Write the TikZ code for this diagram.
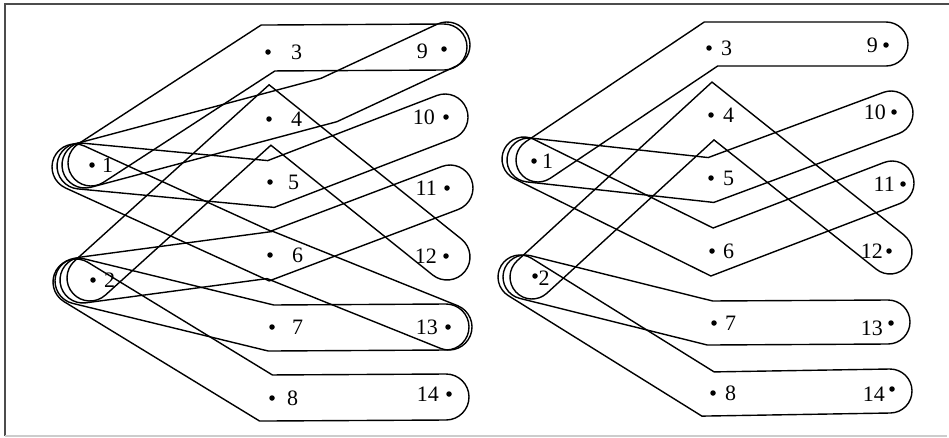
\documentclass[tikz,border=0pt]{standalone}
\usepackage{fontspec}
\setmainfont{Liberation Serif}
\usetikzlibrary{calc,positioning}
\tikzset{
  dot/.style={circle, fill, inner sep=0pt, minimum size=5.5pt},
  lbl/.style={inner sep=0pt, font=\fontsize{22}{22}\selectfont},
  hyper/.style={line width=1.4pt, line join=miter},
  frame/.style={line width=1.4pt},
}
% hyperedge: tube from cap #2 over bend #3 to cap #4, half width #1
\newcommand{\hedge}[4][23pt]{%
  \draw[hyper] let \p1=(#2), \p2=(#3), \p3=(#4),
      \n1={atan2(\y2-\y1,\x2-\x1)}, \n2={atan2(\y3-\y2,\x3-\x2)} in
    ($(\p1)+({\n1+90}:#1)$)
    -- ($(\p2)+({(\n1+\n2)/2+90}:{#1/cos((\n2-\n1)/2)})$)
    -- ($(\p3)+({\n2+90}:#1)$)
    arc[start angle=\n2+90, end angle=\n2-90, radius=#1]
    -- ($(\p2)+({(\n1+\n2)/2-90}:{#1/cos((\n2-\n1)/2)})$)
    -- ($(\p1)+({\n1-90}:#1)$)
    arc[start angle=\n1-90, end angle=\n1-270, radius=#1]
    -- cycle;}

\begin{document}
\begin{tikzpicture}[x=1pt,y=-1pt]
\useasboundingbox (0,0) rectangle (949,437);
\coordinate (c1) at (5,436);
\coordinate (c2) at (5,4);
\coordinate (c3) at (949,4);
\coordinate (c4) at (947,436);
\draw[frame, black!70] (c1) -- (c2) -- (c3);
\draw[frame, black!20] (c1) -- (c4);

% left hypergraph
\node[dot] (a1) at (92,165) {};
\node[dot] (a2) at (93,280) {};
\node[dot] (a3) at (268,52) {};
\node[dot] (a4) at (269,119) {};
\node[dot] (a5) at (270,182) {};
\node[dot] (a6) at (270,255) {};
\node[dot] (a7) at (272,327) {};
\node[dot] (a8) at (272,398) {};
\node[dot] (a9) at (444,49) {};
\node[dot] (a10) at (446,117) {};
\node[dot] (a11) at (447,188) {};
\node[dot] (a12) at (446,256) {};
\node[dot] (a13) at (448,327) {};
\node[dot] (a14) at (449,394) {};
\node[lbl, right=7pt of a1] (la1) {1};
\node[lbl, right=8pt of a2] (la2) {2};
\node[lbl, right=20pt of a3] (la3) {3};
\node[lbl, right=19pt of a4] (la4) {4};
\node[lbl, right=15pt of a5] (la5) {5};
\node[lbl, right=19pt of a6] (la6) {6};
\node[lbl, right=17pt of a7] (la7) {7};
\node[lbl, right=12pt of a8] (la8) {8};
\node[lbl, left=13pt of a9, yshift=-2pt] (la9) {9};
\node[lbl, left=8pt of a10] (la10) {10};
\node[lbl, left=7pt of a11] (la11) {11};
\node[lbl, left=6pt of a12] (la12) {12};
\node[lbl, left=7pt of a13] (la13) {13};
\node[lbl, left=7pt of a14] (la14) {14};

\hedge{$(a1)+(-1,-2)$}{$(a3)+(0,-4)$}{$(a9)+(0,-2)$}
\hedge{$(a1)+(-7,0)$}{$(a4)+(60,-19)$}{$(a9)+(3,-4)$}
\hedge{$(a1)+(-12,1)$}{$(a5)+(1,2)$}{$(a10)+(-1,0)$}
\hedge{$(a1)+(-17,2)$}{$(a6)+(0,1)$}{$(a11)+(3,0)$}
\hedge{$(a2)+(-3,-2)$}{$(a4)+(1,-4)$}{$(a12)+(1,1)$}
\hedge{$(a2)+(-10,0)$}{a6}{$(a13)+(1,0)$}
\hedge{$(a2)+(-15,1)$}{$(a7)+(-1,1)$}{$(a13)+(-2,0)$}
\hedge{$(a2)+(-17,2)$}{$(a8)+(-6,0)$}{$(a14)+(-3,3)$}

% right hypergraph
\node[dot] (b1) at (534,161) {};
\node[dot] (b2) at (535,276) {};
\node[dot] (b3) at (709,48) {};
\node[dot] (b4) at (711,115) {};
\node[dot] (b5) at (711,178) {};
\node[dot] (b6) at (712,251) {};
\node[dot] (b7) at (714,323) {};
\node[dot] (b8) at (713,393) {};
\node[dot] (b9) at (886,45) {};
\node[dot] (b10) at (894,112) {};
\node[dot] (b11) at (903,184) {};
\node[dot] (b12) at (889,251) {};
\node[dot] (b13) at (891,323) {};
\node[dot] (b14) at (892,389) {};
\node[lbl, right=5pt of b1] (lb1) {1};
\node[lbl, right=0.5pt of b2, yshift=-2pt] (lb2) {2};
\node[lbl, right=9pt of b3] (lb3) {3};
\node[lbl, right=9pt of b4] (lb4) {4};
\node[lbl, right=9pt of b5] (lb5) {5};
\node[lbl, right=8pt of b6] (lb6) {6};
\node[lbl, right=8pt of b7] (lb7) {7};
\node[lbl, right=9pt of b8] (lb8) {8};
\node[lbl, left=5pt of b9] (lb9) {9};
\node[lbl, left=5pt of b10] (lb10) {10};
\node[lbl, left=5pt of b11] (lb11) {11};
\node[lbl, left=3pt of b12] (lb12) {12};
\node[lbl, left=5pt of b13, yshift=-5pt] (lb13) {13};
\node[lbl, left=4pt of b14, yshift=-5pt] (lb14) {14};

\hedge[22pt]{$(b1)+(4,-1)$}{$(b3)+(2,-4)$}{$(b9)+(0,-1)$}
\hedge[22pt]{$(b1)+(-5,-1)$}{$(b5)+(0,2)$}{$(b10)+(-3,1)$}
\hedge[22pt]{$(b1)+(-10,-2)$}{$(b6)+(0,1)$}{$(b11)+(-11,-1)$}
\hedge[22pt]{$(b2)+(-3,1)$}{$(b4)+(2,-4)$}{$(b12)+(1,1)$}
\hedge[22pt]{$(b2)+(-10,1)$}{$(b7)+(-4,0)$}{$(b13)+(-3,-1)$}
\hedge[22pt]{$(b2)+(-15,1)$}{$(b8)+(-5,1)$}{$(b14)+(-2,2)$}
\end{tikzpicture}
\end{document}
